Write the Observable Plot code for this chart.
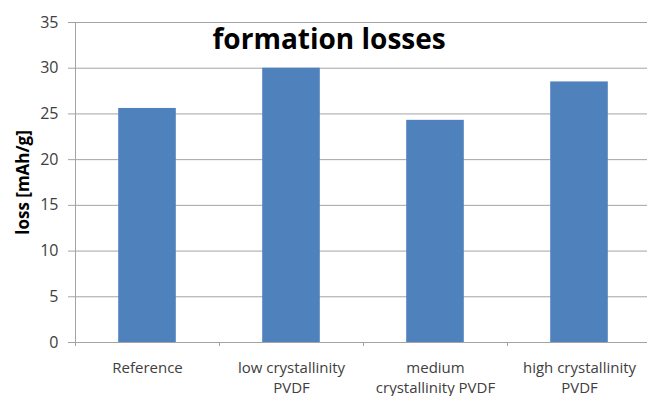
<!DOCTYPE html>
<html>
<head>
<meta charset="utf-8">
<script src="https://cdn.jsdelivr.net/npm/d3@7"></script>
<script src="https://cdn.jsdelivr.net/npm/@observablehq/plot@0.6"></script>
<style>
  html, body { margin: 0; padding: 0; background: #fff; }
  #chart svg { display: block; }
</style>
</head>
<body>
<div id="chart"></div>
<script>
// Formation losses per binder variant
const categories = [
  "Reference",
  "low crystallinity\nPVDF",
  "medium\ncrystallinity PVDF",
  "high crystallinity\nPVDF"
];
const losses = [25.6, 30.0, 24.3, 28.5];
const yTicks = [0, 5, 10, 15, 20, 25, 30, 35];
const titleText = "formation losses";
const yLabel = "loss [mAh/g]";

const rows = categories.map((c, i) => ({i, category: c, loss: losses[i]}));
const slots = d3.range(categories.length);
const boundaries = d3.range(categories.length + 1).map(i => i - 0.5);

const gridColor = "#a3a3a3";
const textColor = "#404040";

const chart = Plot.plot({
  width: 647,
  height: 396,
  marginLeft: 75,
  marginRight: 0,
  marginTop: 22,
  marginBottom: 54,
  style: {fontFamily: "'Open Sans', sans-serif", color: textColor, background: "#fff"},
  x: {type: "linear", domain: [-0.5, categories.length - 0.5], range: [75, 651]},
  y: {domain: [0, 35]},
  marks: [
    Plot.gridY(yTicks, {stroke: gridColor, strokeOpacity: 1}),
    Plot.rectY(rows, {x1: d => d.i - 0.2, x2: d => d.i + 0.2, y: "loss", fill: "#4f81bd"}),
    Plot.ruleY([0], {stroke: gridColor}),
    Plot.frame({anchor: "left", stroke: gridColor}),
    Plot.axisY(yTicks, {tickSize: 7, tickPadding: 10, stroke: gridColor, fill: textColor, fontSize: 16, label: null}),
    Plot.axisX(boundaries, {tickSize: 4, tickFormat: () => "", stroke: gridColor, label: null}),
    Plot.axisX(slots, {
      tickSize: 0, tickPadding: 17, fontSize: 15, lineHeight: 1.3,
      fill: textColor, tickFormat: i => categories[i], label: null
    }),
    Plot.text([titleText], {
      frameAnchor: "top-left", textAnchor: "start", lineAnchor: "bottom",
      dx: 137, dy: 26, fontSize: 28, fontWeight: "bold", fill: "#000"
    }),
    Plot.text([yLabel], {
      frameAnchor: "left", textAnchor: "middle", lineAnchor: "middle",
      rotate: -90, dx: -52, fontSize: 17, fontWeight: "bold", fill: "#000"
    })
  ]
});

document.getElementById("chart").append(chart);
</script>
</body>
</html>
